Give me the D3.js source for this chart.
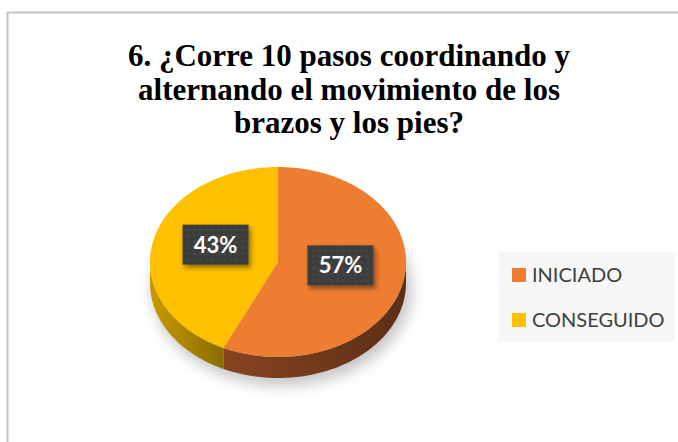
<!DOCTYPE html>
<html>
<head>
<meta charset="utf-8">
<script src="https://cdn.jsdelivr.net/npm/d3@7"></script>
<style>
  body { margin: 0; background: #fff; }
  svg { display: block; }
  .title { font-family: "Liberation Serif"; }
</style>
</head>
<body>
<div id="chart"></div>
<script>
// datos del grafico
var titleLines = ["6. ¿Corre 10 pasos coordinando y", "alternando el movimiento de los", "brazos y los pies?"];
var categories = ["INICIADO", "CONSEGUIDO"];
var values = [57, 43];
var labels = ["57%", "43%"];

var width = 678, height = 442;
var cx = 278, cy = 262, rx = 128, ry = 95, depth = 21;

var topColor = d3.scaleOrdinal().domain(categories).range(["#ED7D31", "#FFC000"]);
var sideDark = d3.scaleOrdinal().domain(categories).range(["#5c2f15", "#8a6c00"]);
var sideLight = d3.scaleOrdinal().domain(categories).range(["#874420", "#c99a00"]);

var svg = d3.select("#chart").append("svg").attr("width", width).attr("height", height);
var defs = svg.append("defs");

// marco
svg.append("path")
	.attr("d", "M7.5," + height + "V12.5H" + width)
	.attr("fill", "none").attr("stroke", "#c4c4c4").attr("stroke-width", 2);

// titulo
var title = svg.append("text").attr("class", "title")
	.attr("text-anchor", "middle")
	.attr("font-weight", "bold").attr("font-size", 31).attr("fill", "#000");
title.selectAll("tspan").data(titleLines).enter().append("tspan")
	.attr("x", 349).attr("y", function(d, i) { return 66 + i * 33.5; })
	.text(function(d) { return d; });

// sombra
defs.append("filter").attr("id", "blur").attr("x", "-30%").attr("y", "-30%").attr("width", "160%").attr("height", "160%")
	.append("feGaussianBlur").attr("stdDeviation", 7);
svg.append("ellipse")
	.attr("cx", cx + 4).attr("cy", cy + depth + 6).attr("rx", rx + 2).attr("ry", ry + 2)
	.attr("fill", "#000").attr("opacity", 0.22).attr("filter", "url(#blur)");

var pie = d3.pie().sort(null).value(function(d) { return d; });
var arcs = pie(values);

function px(a, f) { return cx + rx * (f || 1) * Math.sin(a); }
function py(a, f) { return cy - ry * (f || 1) * Math.cos(a); }

// paredes laterales (solo la mitad frontal)
arcs.forEach(function(d, i) {
	var a0 = Math.max(d.startAngle, Math.PI / 2), a1 = Math.min(d.endAngle, 3 * Math.PI / 2);
	if (a1 <= a0) return;
	var cat = categories[i];
	var gid = "side" + i;
	var x0 = px(a0), x1 = px(a1);
	var g = defs.append("linearGradient").attr("id", gid).attr("gradientUnits", "userSpaceOnUse")
		.attr("x1", Math.min(x0, x1)).attr("x2", Math.max(x0, x1)).attr("y1", 0).attr("y2", 0);
	if (x1 < x0) {
		// lado izquierdo: claro a la izquierda
		g.append("stop").attr("offset", 0).attr("stop-color", sideLight(cat));
		g.append("stop").attr("offset", 1).attr("stop-color", sideDark(cat));
	} else {
		g.append("stop").attr("offset", 0).attr("stop-color", sideLight(cat));
		g.append("stop").attr("offset", 0.2).attr("stop-color", sideDark(cat));
		g.append("stop").attr("offset", 1).attr("stop-color", sideDark(cat));
	}
	var p = d3.path();
	var n = 60;
	p.moveTo(px(a0), py(a0));
	for (var k = 1; k <= n; k++) { var a = a0 + (a1 - a0) * k / n; p.lineTo(px(a), py(a)); }
	p.lineTo(px(a1), py(a1) + depth);
	for (var k = n - 1; k >= 0; k--) { var a = a0 + (a1 - a0) * k / n; p.lineTo(px(a), py(a) + depth); }
	p.closePath();
	svg.append("path").attr("d", p.toString()).attr("fill", "url(#" + gid + ")");
});

// cara superior
arcs.forEach(function(d, i) {
	var p = d3.path();
	var n = 120;
	p.moveTo(cx, cy);
	for (var k = 0; k <= n; k++) { var a = d.startAngle + (d.endAngle - d.startAngle) * k / n; p.lineTo(px(a), py(a)); }
	p.closePath();
	svg.append("path").attr("d", p.toString()).attr("fill", topColor(categories[i]));
});

// etiquetas de datos
var dots = defs.append("pattern").attr("id", "dots").attr("patternUnits", "userSpaceOnUse")
	.attr("width", 6).attr("height", 6);
dots.append("rect").attr("width", 6).attr("height", 6).attr("fill", "#3d3d3d");
dots.append("rect").attr("x", 2).attr("y", 2).attr("width", 2).attr("height", 2).attr("fill", "#4c4c4c");

var shadow = defs.append("filter").attr("id", "lblShadow").attr("x", "-20%").attr("y", "-20%").attr("width", "150%").attr("height", "160%");
shadow.append("feDropShadow").attr("dx", 2).attr("dy", 3).attr("stdDeviation", 2.5)
	.attr("flood-color", "#000").attr("flood-opacity", 0.45);

var boxW = 66, boxH = 40;
arcs.forEach(function(d, i) {
	var mid = (d.startAngle + d.endAngle) / 2;
	var lx = px(mid, 0.5), ly = py(mid, 0.5) - 7;
	var g = svg.append("g").attr("transform", "translate(" + lx + "," + ly + ")");
	g.append("rect").attr("x", -boxW / 2).attr("y", -boxH / 2).attr("width", boxW).attr("height", boxH)
		.attr("fill", "url(#dots)").attr("filter", "url(#lblShadow)");
	g.append("text").attr("text-anchor", "middle").attr("y", 8)
		.attr("font-family", "Lato, 'Open Sans', sans-serif").attr("font-weight", "bold")
		.attr("font-size", 22).attr("fill", "#fff").text(labels[i]);
});

// leyenda
svg.append("rect").attr("x", 498).attr("y", 252).attr("width", 177).attr("height", 90).attr("fill", "#f7f7f7");
var leg = svg.selectAll(".leg").data(categories).enter().append("g").attr("class", "leg")
	.attr("transform", function(d, i) { return "translate(512," + (268 + i * 45) + ")"; });
leg.append("rect").attr("width", 14).attr("height", 14).attr("fill", function(d) { return topColor(d); });
leg.append("text").attr("x", 20).attr("y", 14)
	.attr("font-family", "Lato, 'Open Sans', sans-serif").attr("font-size", 20).attr("fill", "#404040")
	.text(function(d) { return d; });
</script>
</body>
</html>
